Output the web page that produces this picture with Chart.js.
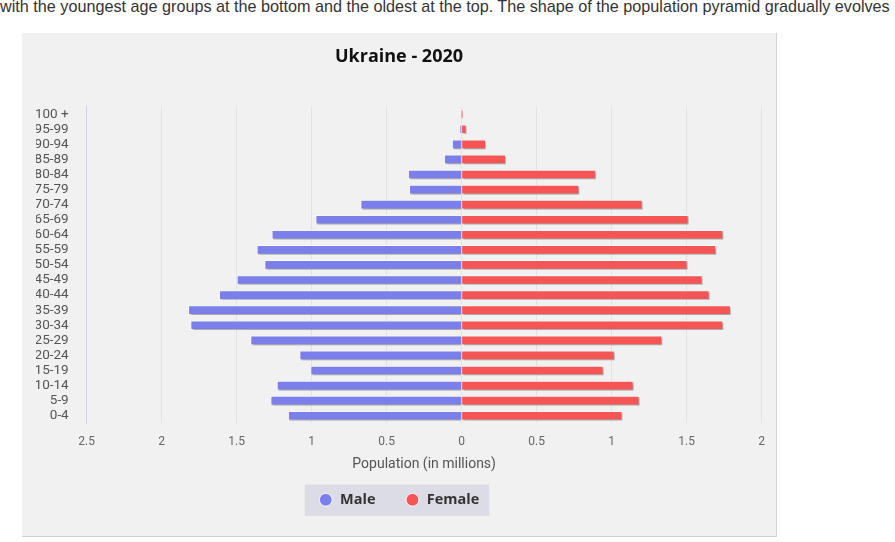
<!DOCTYPE html>
<html>
<head>
<meta charset="utf-8">
<script src="https://cdn.jsdelivr.net/npm/chart.js@4.4.1/dist/chart.umd.min.js"></script>
<style>
  body { margin: 0; background: #fff; width: 895px; height: 542px; overflow: hidden; position: relative; }
  .intro { position: absolute; left: 0; top: -3px; font-family: "Liberation Sans", Arial, sans-serif; font-size: 16.2px; color: #333; white-space: nowrap; }
  .panel { position: absolute; left: 22px; top: 33px; width: 754px; height: 503px; background: #f1f1f1; border-right: 1px solid #d4d4d4; border-bottom: 1px solid #cfcfcf; }
</style>
</head>
<body>
<div class="intro">with the youngest age groups at the bottom and the oldest at the top. The shape of the population pyramid gradually evolves</div>
<div class="panel"><canvas id="piramide" width="754" height="503"></canvas></div>
<script>
// Faixas etárias (de cima para baixo)
const faixas = ['100 +', '95-99', '90-94', '85-89', '80-84', '75-79', '70-74', '65-69', '60-64', '55-59',
    '50-54', '45-49', '40-44', '35-39', '30-34', '25-29', '20-24', '15-19', '10-14', '5-9', '0-4'];

// População em milhões
const homens = [0.002, 0.01, 0.063, 0.116, 0.356, 0.349, 0.673, 0.973, 1.265, 1.365,
    1.313, 1.498, 1.616, 1.822, 1.807, 1.407, 1.080, 1.007, 1.231, 1.273, 1.156];
const mulheres = [0.006, 0.03, 0.16, 0.293, 0.893, 0.782, 1.204, 1.511, 1.742, 1.695,
    1.504, 1.604, 1.651, 1.793, 1.742, 1.335, 1.018, 0.944, 1.144, 1.184, 1.069];

const ticksX = [-2.5, -2, -1.5, -1, -0.5, 0, 0.5, 1, 1.5, 2];

// Sombra nas barras
const sombraPlugin = {
    id: 'sombra',
    beforeDatasetsDraw(chart) {
        const ctx = chart.ctx;
        ctx.save();
        ctx.shadowColor = 'rgba(0,0,0,0.35)';
        ctx.shadowBlur = 2;
        ctx.shadowOffsetX = 1.5;
        ctx.shadowOffsetY = 1.5;
    },
    afterDatasetsDraw(chart) {
        chart.ctx.restore();
    }
};

// Fundo da legenda
const fundoLegenda = {
    id: 'fundoLegenda',
    beforeDraw(chart) {
        const boxes = chart.legend && chart.legend.legendHitBoxes;
        if (!boxes || !boxes.length) return;
        const left = Math.min(...boxes.map(b => b.left));
        const right = Math.max(...boxes.map(b => b.left + b.width));
        const top = Math.min(...boxes.map(b => b.top));
        const bottom = Math.max(...boxes.map(b => b.top + b.height));
        const ctx = chart.ctx;
        ctx.save();
        ctx.fillStyle = '#dcdce6';
        ctx.fillRect(left - 14, top - 8, right - left + 24, bottom - top + 17);
        ctx.restore();
    }
};

const ctx = document.getElementById('piramide').getContext('2d');
new Chart(ctx, {
    type: 'bar',
    data: {
        labels: faixas,
        datasets: [
            {
                label: 'Male',
                data: homens.map(v => -v),
                backgroundColor: '#7b7fe9',
                borderColor: 'rgba(255,255,255,0.85)',
                borderWidth: 1,
                barThickness: 9,
            },
            {
                label: 'Female',
                data: mulheres,
                backgroundColor: '#f55555',
                borderColor: 'rgba(255,255,255,0.85)',
                borderWidth: 1,
                barThickness: 9,
            },
        ],
    },
    options: {
        indexAxis: 'y',
        responsive: false,
        animation: false,
        layout: { padding: { left: 14, right: 14, top: 0, bottom: 19 } },
        scales: {
            x: {
                stacked: true,
                min: -2.5,
                max: 2,
                afterBuildTicks: (scale) => { scale.ticks = ticksX.map(v => ({ value: v })); },
                ticks: {
                    callback: (v) => String(Math.abs(v)),
                    color: '#666',
                    font: { family: 'Roboto', size: 12 },
                    padding: 11,
                    maxRotation: 0,
                },
                grid: { color: '#e2e2e2', drawTicks: false },
                border: { display: false },
                title: {
                    display: true,
                    text: 'Population (in millions)',
                    color: '#555',
                    font: { family: 'Roboto', size: 14 },
                    padding: { top: -4, bottom: -10 },
                },
            },
            y: {
                stacked: true,
                afterFit: (scale) => { scale.width = 50.7; },
                ticks: {
                    autoSkip: false,
                    color: '#555',
                    font: { family: 'Roboto', size: 13.5 },
                    padding: 18,
                },
                grid: { display: false, drawTicks: false },
                border: { color: '#cfd0e2' },
            },
        },
        plugins: {
            title: {
                display: true,
                text: 'Ukraine - 2020',
                color: '#111',
                font: { family: 'Open Sans', size: 18, weight: 'bold' },
                padding: { top: 13, bottom: 39 },
            },
            legend: {
                position: 'bottom',
                labels: {
                    usePointStyle: true,
                    pointStyle: 'circle',
                    boxWidth: 14,
                    boxHeight: 9,
                    padding: 30,
                    color: '#333',
                    font: { family: 'Open Sans', size: 14.5, weight: 'bold' },
                },
            },
            tooltip: { enabled: false },
        },
    },
    plugins: [sombraPlugin, fundoLegenda],
});
</script>
</body>
</html>
